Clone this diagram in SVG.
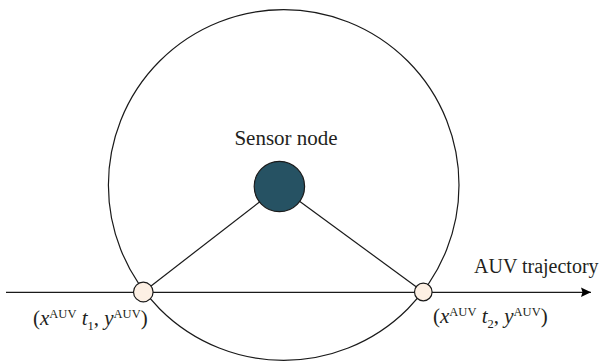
<svg xmlns="http://www.w3.org/2000/svg" width="606" height="361" viewBox="0 0 606 361">
<style>
.ln{stroke:#1a1a1a;stroke-width:1.2;fill:none}
.lbl{font-family:"Liberation Serif","Times New Roman",serif;font-size:20px;fill:#231f20}
.big{font-size:21px}
.it{font-style:italic}
.sm{font-size:12.5px}
.pt{fill:#fdf0e4;stroke:#1a1a1a;stroke-width:1.2}
</style>
<defs>
<marker id="arr" markerUnits="userSpaceOnUse" markerWidth="12" markerHeight="12" viewBox="0 0 12 12" refX="11" refY="6" orient="auto">
<path d="M1,1.3 L11,6 L1,10.7 L2.5,6 Z" fill="#000"/>
</marker>
</defs>
<g id="range">
<circle class="ln" cx="283.7" cy="185" r="175.3"/>
</g>
<g id="connectors">
<line class="ln" x1="6" y1="292.3" x2="591" y2="292.3" marker-end="url(#arr)"/>
<line class="ln" x1="143.3" y1="292" x2="279.4" y2="186.5"/>
<line class="ln" x1="423.3" y1="292" x2="279.4" y2="186.5"/>
</g>
<g id="sensor">
<circle cx="279.4" cy="186.5" r="25.2" fill="#265263" stroke="#1a1a1a" stroke-width="1.2"/>
<text class="lbl big" x="286" y="145" text-anchor="middle">Sensor node</text>
</g>
<g id="p1">
<circle class="pt" cx="143.3" cy="292" r="9.8"/>
<text class="lbl big" x="33" y="325">(<tspan class="it">x</tspan><tspan class="sm" dy="-7">AUV</tspan><tspan dy="7"> </tspan><tspan class="it">t</tspan><tspan class="sm" dy="5">1</tspan><tspan dy="-5">, </tspan><tspan class="it">y</tspan><tspan class="sm" dy="-7">AUV</tspan><tspan dy="7">)</tspan></text>
</g>
<g id="p2">
<circle class="pt" cx="423.3" cy="292" r="8.8"/>
<text class="lbl big" x="433" y="323">(<tspan class="it">x</tspan><tspan class="sm" dy="-7">AUV</tspan><tspan dy="7"> </tspan><tspan class="it">t</tspan><tspan class="sm" dy="5">2</tspan><tspan dy="-5">, </tspan><tspan class="it">y</tspan><tspan class="sm" dy="-7">AUV</tspan><tspan dy="7">)</tspan></text>
</g>
<g id="traj">
<text class="lbl" x="474" y="273">AUV trajectory</text>
</g>
</svg>
